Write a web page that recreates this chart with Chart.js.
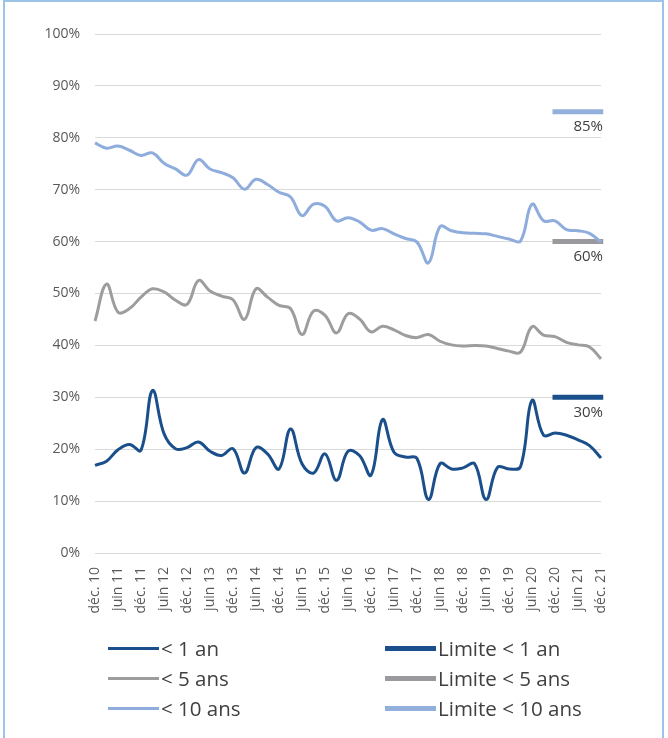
<!DOCTYPE html>
<html lang="fr">
<head>
<meta charset="utf-8">
<title>Échéances</title>
<script src="https://cdn.jsdelivr.net/npm/chart.js@4/dist/chart.umd.min.js"></script>
<style>
  html, body { margin: 0; padding: 0; background: #fff; width: 668px; height: 738px; overflow: hidden; }
  body { position: relative; font-family: "Open Sans", "DejaVu Sans", sans-serif; }
  #frame { position: absolute; left: 3px; top: 0; width: 661px; height: 760px; border: 2px solid #9dc3e6; box-sizing: border-box; }
  #wrap { position: absolute; left: 0; top: 0; width: 668px; height: 620px; }
  #legend { position: absolute; left: 0; top: 0; width: 668px; height: 738px; pointer-events: none; }
  .item { position: absolute; display: flex; align-items: center; height: 30px; font-size: 20.5px; color: #404040; white-space: nowrap; }
  .swatch { display: inline-block; width: 51px; margin-right: 2px; }
</style>
</head>
<body>
<div id="frame"></div>
<div id="wrap"><canvas id="c" width="668" height="620"></canvas></div>
<div id="legend"></div>
<script>
// Quarterly observation dates; only December and June are labelled on the axis
const periods = [
  'déc. 10', 'mars 11', 'juin 11', 'sept. 11', 'déc. 11', 'mars 12', 'juin 12', 'sept. 12',
  'déc. 12', 'mars 13', 'juin 13', 'sept. 13', 'déc. 13', 'mars 14', 'juin 14', 'sept. 14',
  'déc. 14', 'mars 15', 'juin 15', 'sept. 15', 'déc. 15', 'mars 16', 'juin 16', 'sept. 16',
  'déc. 16', 'mars 17', 'juin 17', 'sept. 17', 'déc. 17', 'mars 18', 'juin 18', 'sept. 18',
  'déc. 18', 'mars 19', 'juin 19', 'sept. 19', 'déc. 19', 'mars 20', 'juin 20', 'sept. 20',
  'déc. 20', 'mars 21', 'juin 21', 'sept. 21', 'déc. 21'
];

// Share of the portfolio maturing within each horizon (%)
const under1Year = [
  16.9, 17.7, 19.9, 20.9, 19.8, 31.3, 23.0, 20.1, 20.3, 21.4, 19.6, 18.8, 20.1, 15.4, 20.3,
  19.1, 16.2, 23.9, 17.2, 15.4, 19.1, 14.0, 19.6, 18.8, 15.0, 25.7, 19.4, 18.5, 18.2, 10.3,
  17.2, 16.2, 16.4, 17.2, 10.3, 16.5, 16.2, 16.6, 29.4, 22.7, 23.1, 22.7, 21.8, 20.7, 18.3
];
const under5Years = [
  44.7, 51.8, 46.4, 47.1, 49.3, 50.9, 50.3, 48.7, 47.9, 52.5, 50.5, 49.5, 48.8, 45.0, 50.9,
  49.3, 47.7, 47.1, 42.1, 46.6, 45.8, 42.4, 46.1, 45.1, 42.6, 43.7, 43.0, 41.9, 41.5, 42.1,
  40.8, 40.1, 39.9, 40.0, 39.9, 39.4, 38.9, 38.7, 43.6, 42.0, 41.7, 40.6, 40.1, 39.7, 37.4
];
const under10Years = [
  79.0, 78.0, 78.4, 77.6, 76.6, 77.1, 75.1, 74.0, 72.8, 75.8, 74.0, 73.3, 72.3, 70.1, 72.0,
  71.0, 69.5, 68.6, 65.0, 67.2, 66.8, 64.0, 64.6, 63.8, 62.2, 62.5, 61.5, 60.6, 59.9, 55.9,
  62.9, 62.1, 61.7, 61.6, 61.5, 61.0, 60.5, 60.1, 67.2, 64.0, 64.0, 62.3, 62.1, 61.6, 59.9
];

// Limits in force, shown from their start date
const limitLevels = [30, 60, 85];
const limitStart = 'déc. 20';

const seriesNames = ['< 1 an', '< 5 ans', '< 10 ans'];
const limitNames = ['Limite < 1 an', 'Limite < 5 ans', 'Limite < 10 ans'];
const seriesColors = ['#1a4f8b', '#9d9d9d', '#8eacdc'];
const limitColors = ['#1a4f8b', '#9a9a9e', '#93b0dc'];

const startIdx = periods.indexOf(limitStart);
const limitSeries = limitLevels.map(v => periods.map((p, i) => (i >= startIdx ? v : null)));

const seriesData = [under1Year, under5Years, under10Years];

const datasets = [];
seriesData.forEach((vals, k) => datasets.push({
  label: seriesNames[k], data: vals, borderColor: seriesColors[k], backgroundColor: seriesColors[k],
  borderWidth: 3, pointRadius: 0, tension: 0.4, fill: false, order: 0
}));
limitSeries.forEach((vals, k) => datasets.push({
  label: limitNames[k], data: vals, borderColor: limitColors[k], backgroundColor: limitColors[k],
  borderWidth: 5, pointRadius: 0, tension: 0, fill: false, order: 1, borderCapStyle: 'square',
  limitLevel: limitLevels[k]
}));

// Writes the limit value under the right end of each limit bar
const limitLabels = {
  id: 'limitLabels',
  afterDatasetsDraw(chart) {
    const { ctx, scales: { x, y } } = chart;
    ctx.save();
    ctx.font = '15px "Open Sans", sans-serif';
    ctx.fillStyle = '#404040';
    ctx.textAlign = 'right';
    ctx.textBaseline = 'middle';
    chart.data.datasets.forEach(ds => {
      if (ds.limitLevel === undefined) return;
      const px = x.getPixelForValue(periods.length - 1);
      const py = y.getPixelForValue(ds.limitLevel);
      ctx.fillText(ds.limitLevel + '%', px + 2, py + 15);
    });
    ctx.restore();
  }
};

const tickFont = { family: '"Open Sans", sans-serif', size: 14 };

const chart = new Chart(document.getElementById('c'), {
  type: 'line',
  data: { labels: periods, datasets },
  plugins: [limitLabels],
  options: {
    responsive: false,
    animation: false,
    events: [],
    layout: { padding: { top: 34, right: 67, left: 0, bottom: 0 } },
    plugins: { legend: { display: false }, tooltip: { enabled: false } },
    scales: {
      x: {
        type: 'category',
        offset: false,
        grid: { display: false },
        border: { display: false },
        afterFit(scale) { scale.height = 67; },
        ticks: {
          autoSkip: false, minRotation: 90, maxRotation: 90, padding: 6,
          color: '#595959', font: tickFont,
          callback(value, index) { return index % 2 === 0 ? this.getLabelForValue(value) : ''; }
        }
      },
      y: {
        min: 0, max: 100,
        afterFit(scale) { scale.width = 95; },
        grid: { color: '#d9d9d9', lineWidth: 1, drawTicks: false },
        border: { display: false },
        ticks: { stepSize: 10, padding: 15, color: '#595959', font: tickFont, callback: v => v + '%' }
      }
    }
  }
});

// Two-column legend: measured series on the left, limits on the right
const legend = document.getElementById('legend');
chart.data.datasets.forEach((ds, i) => {
  const col = Math.floor(i / 3), row = i % 3;
  const item = document.createElement('div');
  item.className = 'item';
  item.style.left = (col === 0 ? 108 : 385) + 'px';
  item.style.top = (633 + row * 30) + 'px';
  const sw = document.createElement('span');
  sw.className = 'swatch';
  sw.style.height = ds.borderWidth + 'px';
  sw.style.background = ds.borderColor;
  const tx = document.createElement('span');
  tx.textContent = ds.label;
  item.appendChild(sw);
  item.appendChild(tx);
  legend.appendChild(item);
});
</script>
</body>
</html>
